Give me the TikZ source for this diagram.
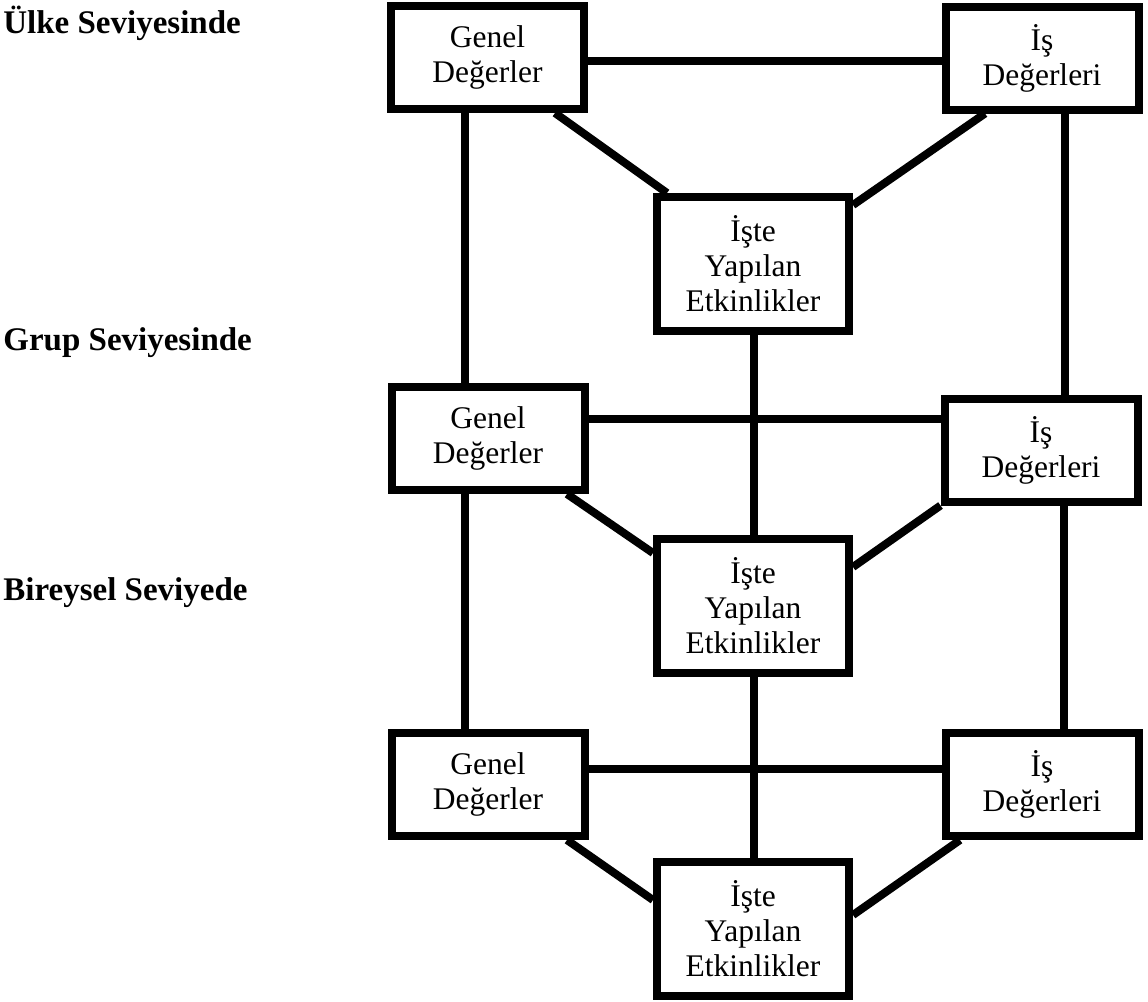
\documentclass[tikz,border=0pt]{standalone}
\usepackage{fontspec}
\setmainfont{Liberation Serif}
\tikzset{
  valbox/.style={draw, line width=4pt, fill=white, inner sep=0pt, align=center,
    minimum width=96.5pt, minimum height=51.5pt,
    font=\fontsize{15.75}{17.5}\selectfont},
  actbox/.style={valbox, minimum width=96pt, minimum height=67pt},
  lvl/.style={anchor=base west, inner sep=0pt, font=\fontsize{16.5}{19}\selectfont\bfseries},
  conn/.style={line width=4pt}
}
\begin{document}
\begin{tikzpicture}[x=0.5pt,y=-0.5pt]
\useasboundingbox (0,0) rectangle (1148,1002);
% level labels
\node[lvl] (l1) at (3,33) {Ülke Seviyesinde};
\node[lvl] (l2) at (3,350) {Grup Seviyesinde};
\node[lvl] (l3) at (3,600) {Bireysel Seviyede};
% boxes
\node[valbox] (g1) at (487.5,57.5) {Genel\\Değerler};
\node[valbox] (w1) at (1042,58) {İş\\Değerleri};
\node[actbox] (e1) at (753,264) {İşte\\Yapılan\\Etkinlikler};
\node[valbox] (g2) at (488,438.5) {Genel\\Değerler};
\node[valbox] (w2) at (1041,450) {İş\\Değerleri};
\node[actbox] (e2) at (753,606) {İşte\\Yapılan\\Etkinlikler};
\node[valbox] (g3) at (488,784.5) {Genel\\Değerler};
\node[valbox] (w3) at (1042,784.5) {İş\\Değerleri};
\node[actbox] (e3) at (753,929) {İşte\\Yapılan\\Etkinlikler};
% vertical connectors
\draw[conn] ([xshift=-11.5pt]g1.south) -- ([xshift=-11.5pt]g1.south |- g2.north);
\draw[conn] ([xshift=-11.5pt]g2.south) -- ([xshift=-11.5pt]g2.south |- g3.north);
\draw[conn] ([xshift=11.5pt]w1.south) -- ([xshift=11.5pt]w1.south |- w2.north);
\draw[conn] ([xshift=11.5pt]w2.south) -- ([xshift=11.5pt]w2.south |- w3.north);
\draw[conn] ([xshift=0.5pt]e1.south) -- ([xshift=0.5pt]e1.south |- e2.north);
\draw[conn] ([xshift=0.5pt]e2.south) -- ([xshift=0.5pt]e2.south |- e3.north);
% horizontal connectors
\draw[conn] ([yshift=-1.75pt]g1.east) coordinate (h1) -- (h1 -| w1.west);
\draw[conn] ([yshift=9.75pt]g2.east) coordinate (h2) -- (h2 -| w2.west);
\draw[conn] ([yshift=7.75pt]g3.east) coordinate (h3) -- (h3 -| w3.west);
% diagonal connectors
\draw[conn] ([xshift=33.75pt]g1.south) -- ([xshift=-43pt]e1.north);
\draw[conn] ([xshift=-28.5pt]w1.south) -- ([yshift=29.5pt]e1.east);
\draw[conn] ([xshift=39.5pt]g2.south) -- ([yshift=26.5pt]e2.west);
\draw[conn] (w2.south west) -- ([yshift=19.5pt]e2.east);
\draw[conn] ([xshift=39.5pt]g3.south) -- ([yshift=14.5pt]e3.west);
\draw[conn] ([xshift=-41pt]w3.south) -- ([yshift=7pt]e3.east);
\end{tikzpicture}
\end{document}
